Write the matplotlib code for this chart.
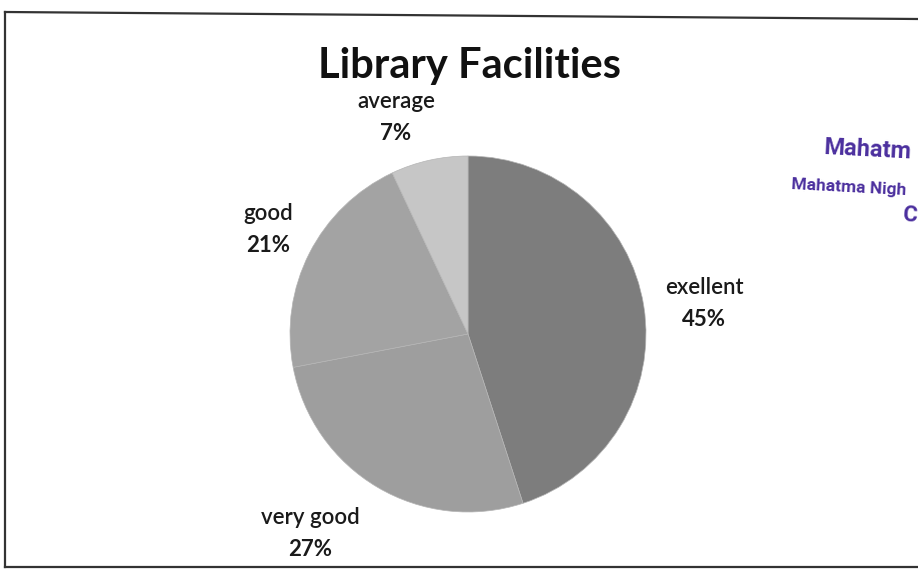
import matplotlib
matplotlib.use("Agg")
import matplotlib.pyplot as plt
from matplotlib.lines import Line2D

title = "Library Facilities"
categories = ["exellent", "very good", "good", "average"]
values = [45, 27, 21, 7]
colors = ["#7d7d7d", "#9e9e9e", "#a3a3a3", "#c6c6c6"]

W, H = 918, 570
fig = plt.figure(figsize=(W / 100, H / 100), dpi=100)
fig.patch.set_facecolor("white")

def fx(x):
    return x / W

def fy(y):
    return 1 - y / H

# pie axes: center (468,334), radius 178 px
cx, cy, r = 468, 334, 178
ax = fig.add_axes([fx(cx - r), fy(cy + r), 2 * r / W, 2 * r / H])
ax.pie(values, colors=colors, startangle=90, counterclock=False,
       wedgeprops=dict(linewidth=0.5, edgecolor="#b5b5b5"))
ax.set_xlim(-1, 1)
ax.set_ylim(-1, 1)
ax.set_aspect("equal")
ax.axis("off")

font = ["Lato", "DejaVu Sans"]
fig.text(fx(470), fy(66), title, ha="center", va="center", fontsize=30,
         fontweight="bold", family=font, color="#111111")

label_pos = {
    "exellent": (704, 287, 320),
    "very good": (310, 518, 549),
    "good": (268, 213, 245),
    "average": (396, 102, 133),
}
for cat, v in zip(categories, values):
    x, y1, y2 = label_pos[cat]
    fig.text(fx(x), fy(y1), cat, ha="center", va="center", fontsize=16,
             fontweight="semibold", family=font, color="#1a1a1a")
    fig.text(fx(x), fy(y2), f"{v}%", ha="center", va="center", fontsize=16,
             fontweight="bold", family=font, color="#1a1a1a")

# frame of the scanned chart
for (x0, y0, x1, y1) in [(5, 12, 918, 19), (5, 12, 5, 567), (5, 567, 918, 567)]:
    fig.add_artist(Line2D([fx(x0), fx(x1)], [fy(y0), fy(y1)], color="#333333",
                          linewidth=1.6, transform=fig.transFigure))

# stamp text (visible part at the right edge)
stamp = "#4b2f9e"
sfont = ["Roboto", "DejaVu Sans"]
fig.text(fx(823), fy(150), "Mahatm", ha="left", va="center", fontsize=17,
         fontweight="bold", family=sfont, color=stamp, rotation=-3)
fig.text(fx(791), fy(188), "Mahatma Nigh", ha="left", va="center", fontsize=12.5,
         fontweight="bold", family=sfont, color=stamp, rotation=-3)
fig.text(fx(902), fy(215), "C", ha="left", va="center", fontsize=16,
         fontweight="bold", family=sfont, color=stamp, rotation=-3)

fig.savefig("out.png", dpi=100, facecolor="white")
